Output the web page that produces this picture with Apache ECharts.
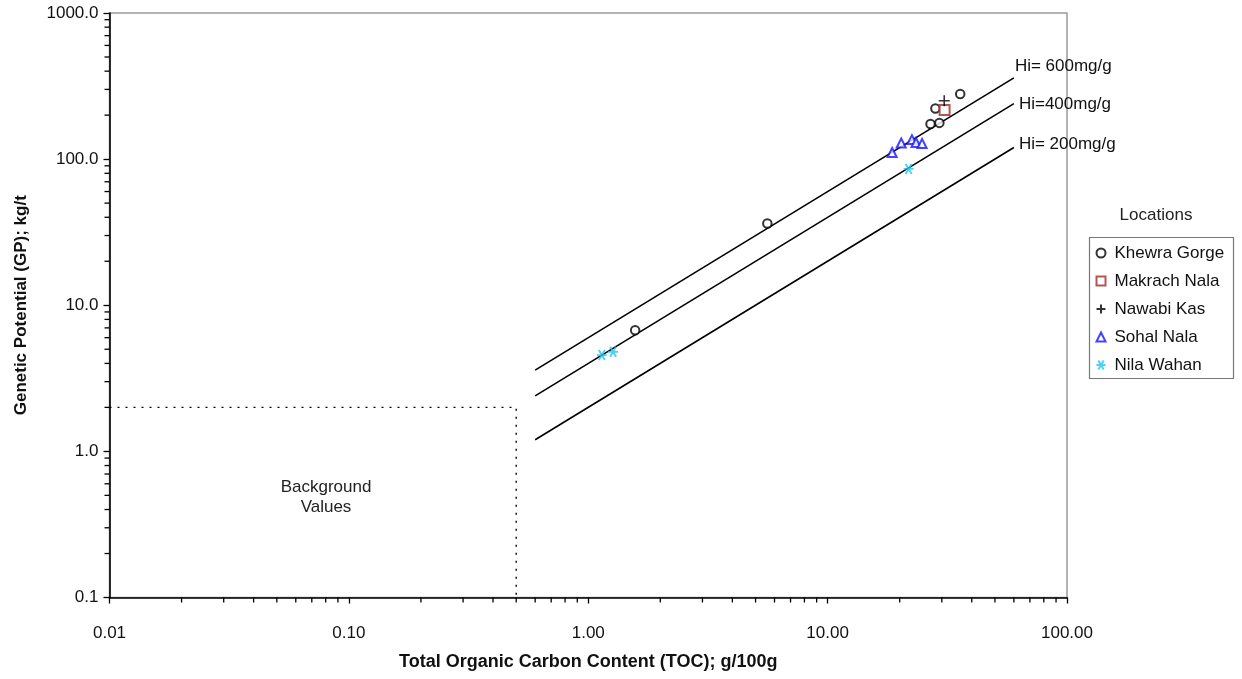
<!DOCTYPE html>
<html>
<head>
<meta charset="utf-8">
<title>Genetic Potential vs TOC</title>
<script src="https://cdn.jsdelivr.net/npm/echarts@6/dist/echarts.min.js"></script>
<style>
  html, body { margin: 0; padding: 0; background: #fff; }
  #chart { width: 1242px; height: 679px; }
</style>
</head>
<body>
<div id="chart"></div>
<script>
// Sample measurements: [TOC g/100g, GP kg/t]
const khewraGorge = [[5.6, 36.3], [1.57, 6.75], [28.2, 222], [35.8, 279], [26.9, 174], [29.3, 177]];
const makrachNala = [[30.8, 217]];
const nawabiKas   = [[30.7, 251]];
const sohalNala   = [[18.6, 111], [20.3, 129], [22.5, 136], [23.4, 130], [24.8, 128]];
const nilaWahan   = [[1.14, 4.56], [1.27, 4.8], [21.8, 85.7]];

// Hydrogen index reference lines (end points at TOC 0.6 and 60)
const hi600 = [[0.6, 3.6], [60, 360]];
const hi400 = [[0.6, 2.4], [60, 240]];
const hi200 = [[0.6, 1.2], [60, 120]];
const hiLabels = ['Hi= 600mg/g', 'Hi=400mg/g', 'Hi= 200mg/g'];

// Background-values box limits
const backgroundBox = [[0.01, 2], [0.5, 2], [0.5, 0.1]];

// Axis ranges and minor tick positions
const xDecades = [0.01, 0.1, 1, 10];
const yDecades = [0.1, 1, 10, 100];
const minorSteps = [2, 3, 4, 5, 6, 7, 8, 9];
const xMin = 0.01, xMax = 100, yMin = 0.1, yMax = 1000;

const xMinor = [];
xDecades.forEach(d => minorSteps.forEach(m => xMinor.push([+(d * m).toPrecision(3), yMin])));
const yMinor = [];
yDecades.forEach(d => minorSteps.forEach(m => yMinor.push([xMin, +(d * m).toPrecision(3)])));

const FONT = "'Liberation Sans', Arial, Helvetica, sans-serif";
const chart = echarts.init(document.getElementById('chart'), null, { renderer: 'canvas' });

function tickSeries(data, horizontal) {
  return {
    type: 'custom',
    silent: true,
    clip: false,
    data: data,
    encode: { x: 0, y: 1 },
    z: 5,
    renderItem: function (params, api) {
      const p = api.coord([api.value(0), api.value(1)]);
      return {
        type: 'line',
        shape: horizontal
          ? { x1: p[0], y1: p[1], x2: p[0] - 5, y2: p[1] }
          : { x1: p[0], y1: p[1], x2: p[0], y2: p[1] + 5 },
        style: { stroke: '#000', lineWidth: 1.3 }
      };
    }
  };
}

function hiLine(data, text, offset) {
  return {
    type: 'line',
    data: data,
    symbol: 'none',
    silent: true,
    lineStyle: { color: '#000', width: 1.6 },
    endLabel: {
      show: true,
      formatter: text,
      distance: 5,
      offset: offset,
      fontFamily: FONT,
      fontSize: 17,
      color: '#111'
    },
    z: 3
  };
}

const option = {
  backgroundColor: '#fff',
  animation: false,
  grid: {
    left: 109.5, right: 175, top: 13, bottom: 81.5,
    show: true, borderColor: '#9a9a9a', borderWidth: 1.5, backgroundColor: 'transparent'
  },
  xAxis: {
    type: 'log', logBase: 10, min: xMin, max: xMax, splitNumber: 4,
    name: 'Total Organic Carbon Content (TOC); g/100g',
    nameLocation: 'middle', nameGap: 56,
    nameTextStyle: { fontFamily: FONT, fontSize: 18, fontWeight: 'bold', color: '#111' },
    axisLine: { show: true, lineStyle: { color: '#000', width: 1.6 } },
    axisTick: { show: true, inside: false, length: 6, lineStyle: { color: '#000', width: 1.3 } },
    axisLabel: {
      margin: 27, fontFamily: FONT, fontSize: 17, color: '#111',
      formatter: v => Number(v).toFixed(2)
    },
    splitLine: { show: false }
  },
  yAxis: {
    type: 'log', logBase: 10, min: yMin, max: yMax, splitNumber: 4,
    name: 'Genetic Potential (GP); kg/t',
    nameLocation: 'middle', nameGap: 80,
    nameTextStyle: { fontFamily: FONT, fontSize: 17, fontWeight: 'bold', color: '#111' },
    axisLine: { show: true, lineStyle: { color: '#000', width: 1.6 } },
    axisTick: { show: true, inside: false, length: 6, lineStyle: { color: '#000', width: 1.3 } },
    axisLabel: {
      margin: 11, fontFamily: FONT, fontSize: 17, color: '#111',
      formatter: v => Number(v).toFixed(1)
    },
    splitLine: { show: false }
  },
  legend: {
    orient: 'vertical',
    left: 1095.5, top: 244,
    padding: 0,
    itemWidth: 9, itemHeight: 9,
    itemGap: 10,
    selectedMode: false,
    textStyle: { fontFamily: FONT, fontSize: 17, color: '#111', lineHeight: 18, padding: [0, 0, 0, 4] },
    data: ['Khewra Gorge', 'Makrach Nala', 'Nawabi Kas', 'Sohal Nala', 'Nila Wahan']
  },
  graphic: [
    {
      type: 'rect', silent: true,
      shape: { x: 1089.5, y: 237.5, width: 144, height: 141 },
      style: { fill: 'none', stroke: '#777', lineWidth: 1.2 }
    },
    {
      type: 'text', silent: true, x: 1156, y: 215,
      style: { text: 'Locations', fontFamily: FONT, fontSize: 17, fill: '#222', align: 'center', verticalAlign: 'middle' }
    },
    {
      type: 'text', silent: true, x: 326, y: 497,
      style: {
        text: 'Background\nValues', fontFamily: FONT, fontSize: 17, lineHeight: 20,
        fill: '#222', align: 'center', verticalAlign: 'middle'
      }
    }
  ],
  series: [
    {
      type: 'line', data: backgroundBox, symbol: 'none', silent: true,
      lineStyle: { color: '#000', width: 1.4, type: [2, 6] }, z: 2
    },
    hiLine(hi600, hiLabels[0], [-4, -12]),
    hiLine(hi400, hiLabels[1], [0, 1]),
    hiLine(hi200, hiLabels[2], [0, -3]),
    tickSeries(xMinor, false),
    tickSeries(yMinor, true),
    {
      name: 'Khewra Gorge', type: 'scatter', data: khewraGorge,
      symbol: 'emptyCircle', symbolSize: 8.5,
      itemStyle: { color: '#000', borderColor: '#000', borderWidth: 1.2 }, z: 10
    },
    {
      name: 'Makrach Nala', type: 'scatter', data: makrachNala,
      symbol: 'emptyRect', symbolSize: 10,
      itemStyle: { color: '#a3292b', borderColor: '#a3292b', borderWidth: 1.4 }, z: 10
    },
    {
      name: 'Nawabi Kas', type: 'scatter', data: nawabiKas,
      symbol: 'path://M5,0L5,10M0,5L10,5', symbolSize: 11,
      itemStyle: { color: 'transparent', borderColor: '#000', borderWidth: 1.6 }, z: 10
    },
    {
      name: 'Sohal Nala', type: 'scatter', data: sohalNala,
      symbol: 'emptyTriangle', symbolSize: 9,
      itemStyle: { color: '#1414ff', borderColor: '#1414ff', borderWidth: 1.3 }, z: 10
    },
    {
      name: 'Nila Wahan', type: 'scatter', data: nilaWahan,
      symbol: 'path://M0,5L10,5M2,0L8,10M8,0L2,10', symbolSize: 10,
      itemStyle: { color: 'transparent', borderColor: '#1fc6f2', borderWidth: 1.9 }, z: 10
    }
  ]
};

chart.setOption(option);
</script>
</body>
</html>
